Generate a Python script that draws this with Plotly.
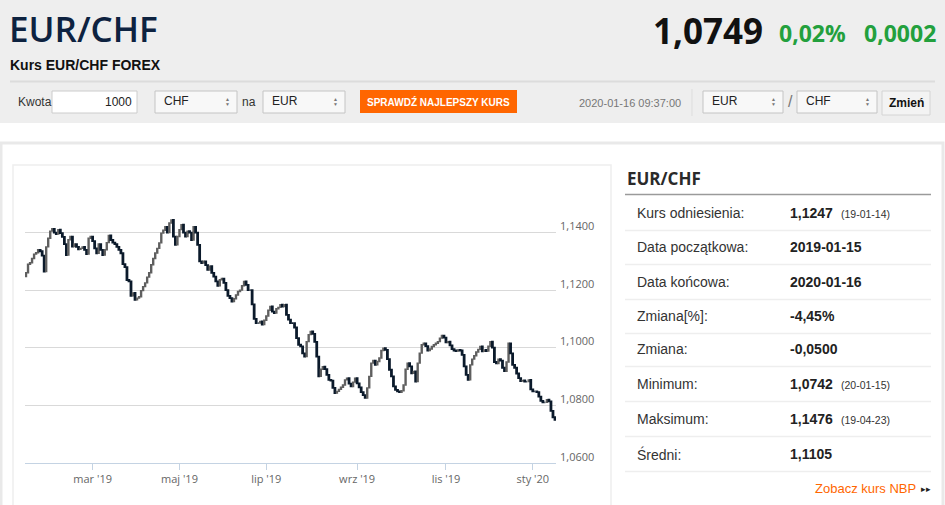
import pandas as pd
import plotly.graph_objects as go

# trading days shown on the chart (weekdays)
start_date = "2019-01-15"
end_date = "2020-01-16"
reference_rate = 1.1247

# daily EUR/CHF closes
closes = [
    1.1260, 1.1290, 1.1295, 1.1310, 1.1325, 1.1330, 1.1340, 1.1335, 1.1320, 1.1264,
    1.1350, 1.1380, 1.1405, 1.1413, 1.1400, 1.1395, 1.1410, 1.1398, 1.1385, 1.1360,
    1.1322, 1.1375, 1.1386, 1.1351, 1.1360, 1.1350, 1.1342, 1.1345, 1.1350, 1.1340,
    1.1325, 1.1380, 1.1386, 1.1370, 1.1345, 1.1328, 1.1360, 1.1340, 1.1322, 1.1340,
    1.1365, 1.1390, 1.1374, 1.1365, 1.1360, 1.1350, 1.1340, 1.1328, 1.1290, 1.1280,
    1.1235, 1.1230, 1.1180, 1.1190, 1.1166, 1.1172, 1.1177, 1.1198, 1.1212, 1.1225,
    1.1245, 1.1260, 1.1288, 1.1310, 1.1329, 1.1345, 1.1364, 1.1398, 1.1408, 1.1420,
    1.1400, 1.1433, 1.1444, 1.1386, 1.1357, 1.1386, 1.1410, 1.1427, 1.1400, 1.1386,
    1.1405, 1.1400, 1.1374, 1.1420, 1.1400, 1.1357, 1.1300, 1.1294, 1.1300, 1.1287,
    1.1270, 1.1283, 1.1260, 1.1247, 1.1230, 1.1215, 1.1236, 1.1240, 1.1225, 1.1200,
    1.1180, 1.1172, 1.1160, 1.1170, 1.1183, 1.1195, 1.1200, 1.1215, 1.1230, 1.1218,
    1.1200, 1.1200, 1.1150, 1.1100, 1.1085, 1.1085, 1.1091, 1.1080, 1.1095, 1.1110,
    1.1130, 1.1143, 1.1125, 1.1120, 1.1135, 1.1140, 1.1149, 1.1143, 1.1149, 1.1114,
    1.1097, 1.1085, 1.1085, 1.1070, 1.1033, 1.1010, 1.1004, 1.0980, 1.0969, 1.1021,
    1.1045, 1.1056, 1.1048, 1.1020, 1.0969, 1.0900, 1.0925, 1.0934, 1.0925, 1.0905,
    1.0888, 1.0885, 1.0860, 1.0842, 1.0848, 1.0855, 1.0862, 1.0870, 1.0888, 1.0894,
    1.0875, 1.0865, 1.0880, 1.0894, 1.0876, 1.0862, 1.0845, 1.0835, 1.0825, 1.0860,
    1.0900, 1.0946, 1.0955, 1.0940, 1.0952, 1.0964, 1.0990, 1.0998, 1.0992, 1.0960,
    1.0923, 1.0900, 1.0865, 1.0853, 1.0848, 1.0845, 1.0850, 1.0870, 1.0925, 1.0946,
    1.0935, 1.0911, 1.0917, 1.0882, 1.0946, 1.0981, 1.1010, 1.1015, 1.1005, 1.0990,
    1.0995, 1.1004, 1.1010, 1.1015, 1.1021, 1.1033, 1.1042, 1.1035, 1.1018, 1.1021,
    1.1008, 1.0995, 1.0990, 1.0988, 1.0992, 1.0990, 1.0975, 1.0935, 1.0905, 1.0888,
    1.0940, 1.0960, 1.0972, 1.0985, 1.0994, 1.1004, 1.0987, 1.0992, 1.0988, 1.1005,
    1.1021, 1.1000, 1.0950, 1.0945, 1.0960, 1.0955, 1.0930, 1.0918, 1.0950, 1.1015,
    1.0980, 1.0940, 1.0930, 1.0910, 1.0894, 1.0884, 1.0886, 1.0882, 1.0882, 1.0888,
    1.0855, 1.0848, 1.0848, 1.0845, 1.0830, 1.0815, 1.0810, 1.0810, 1.0819, 1.0813,
    1.0780, 1.0758, 1.0749,
]

month_starts = ["2019-03-01", "2019-05-01", "2019-07-01", "2019-09-01", "2019-11-01", "2020-01-01"]
month_labels = ["mar '19", "maj '19", "lip '19", "wrz '19", "lis '19", "sty '20"]

y_ticks = [1.06, 1.08, 1.10, 1.12, 1.14, 1.16]
y_labels = ["1,0600", "1,0800", "1,1000", "1,1200", "1,1400", ""]

stat_labels = ["Kurs odniesienia:", "Data początkowa:", "Data końcowa:", "Zmiana[%]:",
               "Zmiana:", "Minimum:", "Maksimum:", "Średni:"]
stat_values = ["1,1247", "2019-01-15", "2020-01-16", "-4,45%", "-0,0500", "1,0742", "1,1476", "1,1105"]
stat_notes = ["(19-01-14)", "", "", "", "", "(20-01-15)", "(19-04-23)", ""]

W, H = 945, 505
SANS = "Liberation Sans, Arial, sans-serif"
OPEN = "Open Sans, sans-serif"


def px(x):
    return x / W


def py(y):
    return 1 - y / H


dates = [d.strftime("%Y-%m-%d") for d in pd.bdate_range(start_date, end_date)]
opens = [reference_rate] + closes[:-1]
highs = [max(o, c) for o, c in zip(opens, closes)]
lows = [min(o, c) for o, c in zip(opens, closes)]
tick_dates = [next(d for d in dates if d >= m) for m in month_starts]

fig = go.Figure()
fig.add_trace(go.Candlestick(
    x=dates, open=opens, high=highs, low=lows, close=closes,
    increasing=dict(fillcolor="#ffffff", line=dict(color="#5f5f5f", width=1.4)),
    decreasing=dict(fillcolor="#0b1a2b", line=dict(color="#0b1a2b", width=1.8)),
    whiskerwidth=0, showlegend=False, hoverinfo="skip",
))

shapes = []
annotations = []


def rect(x0, y0, x1, y1, fill, line="rgba(0,0,0,0)", lw=1, layer="below"):
    shapes.append(dict(type="rect", xref="paper", yref="paper", x0=px(x0), x1=px(x1),
                       y0=py(y1), y1=py(y0), fillcolor=fill, line=dict(color=line, width=lw),
                       layer=layer))


def hline(x0, x1, y, color, lw=1):
    shapes.append(dict(type="line", xref="paper", yref="paper", x0=px(x0), x1=px(x1),
                       y0=py(y), y1=py(y), line=dict(color=color, width=lw), layer="below"))


def text(x, y, s, size, color="#333333", family=SANS, weight=400, anchor="left"):
    annotations.append(dict(xref="paper", yref="paper", x=px(x), y=py(y), text=s,
                            showarrow=False, xanchor=anchor, yanchor="middle", borderpad=0,
                            font=dict(size=size, color=color, family=family, weight=weight)))


# page background
rect(0, 0, W, 123, "#eeeeee")
rect(1, 143, 943, 520, "#ffffff", "#e9e9e9", 3)
rect(13, 165, 611, 520, "#ffffff", "#eeeeee", 1.5)

# header
text(8, 28, "EUR/CHF", 35, "#0d2240", OPEN, 600)
text(764, 30, "1,0749", 35, "#111111", OPEN, 700, "right")
text(778, 33, "0,02%", 23, "#23a03d", OPEN, 700)
text(937, 33, "0,0002", 23, "#23a03d", OPEN, 700, "right")
text(9, 65, "Kurs EUR/CHF FOREX", 14, "#111111", SANS, 700)
hline(10, 935, 81.5, "#dcdcdc", 2)

# converter form row
text(17, 102, "Kwota", 12, "#333333")
rect(52, 91, 137, 113, "#ffffff", "#cccccc")
text(133, 102, "1000", 12, "#222222", anchor="right")
for x0, x1, label in [(155, 237, "CHF"), (263, 345, "EUR"), (703, 783, "EUR"), (797, 877, "CHF")]:
    rect(x0, 91, x1, 113, "#f8f8f8", "#c4c4c4")
    text(x0 + 8, 101.5, label, 12, "#222222")
    text(x1 - 10, 99, "▲", 5, "#777777", anchor="center")
    text(x1 - 10, 104.5, "▼", 5, "#777777", anchor="center")
text(241, 102, "na", 12, "#333333")
rect(360, 90, 517, 113, "#ff6600")
text(438.5, 102, "SPRAWDŹ NAJLEPSZY KURS", 10, "#ffffff", SANS, 700, "center")
text(682, 103, "2020-01-16 09:37:00", 11, "#777777", anchor="right")
shapes.append(dict(type="line", xref="paper", yref="paper", x0=px(692), x1=px(692),
                   y0=py(116), y1=py(89), line=dict(color="#dddddd", width=1)))
text(790, 102, "/", 16, "#777777", anchor="center")
rect(882, 91, 930, 115, "#f3f3f3", "#d4d4d4")
text(906, 103, "Zmień", 12, "#111111", SANS, 700, "center")

# statistics panel
text(626, 178, "EUR/CHF", 17, "#2a2a2a", OPEN, 700)
hline(625, 931, 194.5, "#9a9a9a", 1.5)
row_y = [213, 247, 282, 316, 349, 384, 419, 454]
for i, yc in enumerate(row_y):
    text(636, yc, stat_labels[i], 14, "#333333")
    text(789, yc, stat_values[i], 14, "#222222", SANS, 700)
    if stat_notes[i]:
        text(840, yc + 1, stat_notes[i], 10.5, "#333333")
    hline(625, 931, yc + 17.5, "#eeeeee", 1.5)
text(917, 488, "Zobacz kurs NBP", 13, "#ff6600", anchor="right")
text(920, 488.5, "▸▸", 9, "#222222")

fig.update_layout(
    autosize=True, margin=dict(l=0, r=0, t=0, b=0),
    paper_bgcolor="#ffffff", plot_bgcolor="rgba(0,0,0,0)",
    shapes=shapes, annotations=annotations,
    xaxis=dict(
        type="category", domain=[px(25), px(556)], range=[-0.5, len(dates) - 0.5],
        rangeslider=dict(visible=False), showgrid=False, zeroline=False,
        showline=True, linecolor="#c4d3e3", linewidth=1,
        ticks="outside", ticklen=6, tickcolor="#c4d3e3",
        tickvals=tick_dates, ticktext=month_labels,
        tickfont=dict(size=11, color="#666666", family=OPEN),
    ),
    yaxis=dict(
        domain=[py(462.7), py(175)], range=[1.06, 1.16], side="right",
        tickvals=y_ticks, ticktext=y_labels, showgrid=True, gridcolor="#d9d9d9",
        zeroline=False, ticks="", ticklabelshift=-6, ticklabelstandoff=3,
        tickfont=dict(size=11, color="#666666", family=OPEN),
    ),
)

fig.write_html("out.html", config={"displayModeBar": False, "responsive": True},
               default_width="100vw", default_height="100vh",
               post_script="document.body.style.margin='0';document.body.style.overflow='hidden';")
